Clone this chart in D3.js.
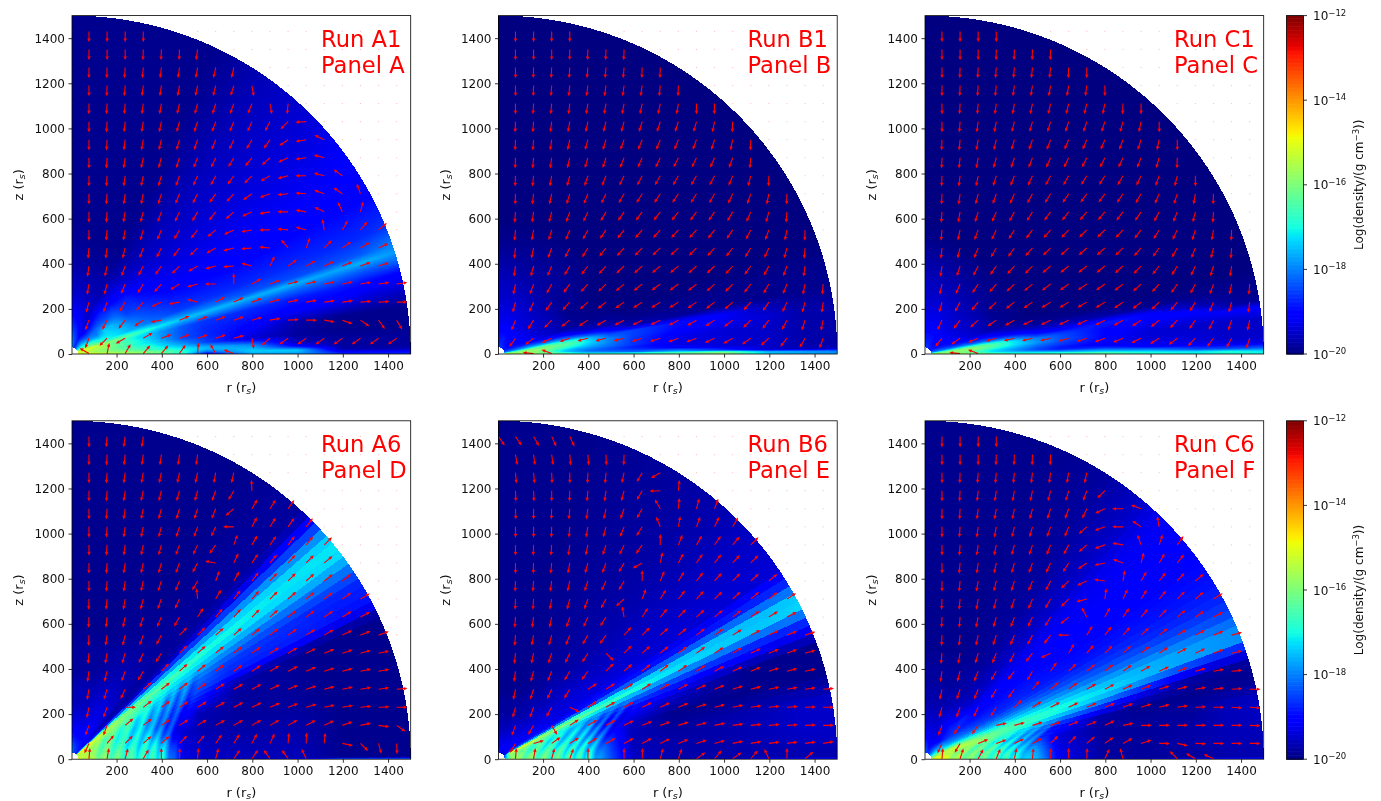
<!DOCTYPE html>
<html><head><meta charset="utf-8">
<script src="https://cdn.jsdelivr.net/npm/d3@7/dist/d3.min.js"></script>
<style>
html,body{margin:0;padding:0;background:#fff}
#wrap{position:relative;width:1381px;height:801px;overflow:hidden}
canvas,svg{position:absolute;left:0;top:0}
text{font-family:"DejaVu Sans",sans-serif}
</style></head><body><div id="wrap"><canvas id="heat" width="1381" height="801"></canvas><svg id="chart" width="1381" height="801"></svg></div>
<script>
// Radius nodes of the density tables (r_s)
const radii=[30,60,100,140,180,220,260,300,350,400,500,600,800,1000,1200,1350,1500];
// Density levels: tenths of a decade above 1e-20 g/cm3. Rows follow the polar angle lists (deg above the equator).
const thetaA=[0,1,2,3,5,8,11,14,16,17.5,19,22,28,36,45,55,65,78,90];
const densityA=[
[60,52,48,45,44,42,42,40,38,36,30,8,24,22,14,14,14],
[58,52,50,46,45,44,44,42,40,38,32,18,26,26,3,3,3],
[55,50,48,45,44,42,42,40,38,36,30,24,24,10,2,2,2],
[52,48,46,44,42,40,38,36,34,32,28,24,20,4,2,2,2],
[50,46,44,42,40,38,36,34,32,28,22,15,6,2,1,1,1],
[48,46,44,42,38,36,34,30,28,24,16,13,9,3,1,1,1],
[48,48,46,44,40,37,34,30,26,22,16,13,11,9,8,6,5],
[48,48,46,44,38,35,32,28,26,22,17,14,13,12,12,11,10],
[50,50,48,44,40,36,33,30,28,25,22,21,19,18,18,17,18],
[50,52,50,45,42,40,38,34,32,29,26,25,24,24,23,24,22],
[48,50,46,40,36,34,32,30,28,25,22,20,17,16,16,17,20],
[44,44,40,34,30,28,25,23,20,18,15,14,13,13,13,13,14],
[36,36,34,28,28,26,24,20,17,15,12,11,10,10,10,10,10],
[30,30,24,20,26,24,20,15,14,12,9,8,8,8,8,8,9],
[22,24,18,18,18,16,16,13,12,9,7,6,6,6,6,6,6],
[18,18,12,11,12,12,9,8,7,5,4,4,4,4,4,4,4],
[12,12,8,6,5,5,4,3,3,2,1,1,1,1,1,1,1],
[18,16,13,10,8,6,5,4,3,2,1,1,1,1,1,1,1],
[25,22,16,13,10,8,6,5,4,3,2,1,1,1,1,1,1]];
const thetaB=[0,0.5,1,2,3,4,6,8,10,12,15,20,30,50,70,90];
const densityB=[
[48,46,45,44,42,40,38,36,34,34,34,34,36,40,26,24,22],
[48,45,44,42,40,38,36,34,30,32,30,30,34,40,24,22,20],
[48,44,44,44,44,42,38,33,28,24,20,18,22,14,5,4,4],
[46,44,44,42,40,36,32,26,22,18,16,14,10,6,5,3,3],
[44,44,42,42,40,36,30,26,22,20,16,12,7,6,5,3,3],
[42,42,42,42,40,38,34,28,24,22,18,14,7,6,5,3,3],
[38,40,42,42,42,40,36,34,30,26,20,14,8,6,5,3,3],
[34,36,38,40,40,40,38,37,34,28,20,15,10,8,6,3,3],
[28,28,30,32,34,36,34,33,32,26,16,15,11,9,4,2,2],
[24,22,22,24,24,24,24,22,20,16,10,4,2,1,1,1,1],
[20,18,18,18,16,14,13,12,8,5,3,1,1,1,1,1,1],
[16,14,12,10,8,6,5,3,2,1,1,0,0,0,0,0,0],
[12,10,9,8,6,5,4,3,1,1,0,0,0,0,0,0,0],
[12,10,9,7,6,5,4,3,2,2,1,0,0,0,0,0,0],
[14,12,10,8,7,6,5,4,3,2,1,0,0,0,0,0,0],
[14,12,10,8,7,6,5,5,4,3,1,0,0,0,0,0,0]];
const thetaC=[0,0.5,1,2,3,4,6,8,9,10,12,15,20,30,50,70,90];
const densityC=[
[46,46,46,44,44,42,40,38,36,34,34,34,36,32,30,32,30],
[44,44,44,42,42,40,38,36,34,32,32,32,34,30,28,30,28],
[44,44,44,44,42,40,36,32,30,28,26,24,24,22,16,16,18],
[44,42,42,42,40,36,32,28,25,22,16,12,14,8,8,7,7],
[42,40,42,40,40,36,32,28,25,22,16,12,8,8,6,5,5],
[40,40,40,40,40,38,35,30,27,24,18,14,9,6,6,5,5],
[36,38,40,42,42,42,38,36,32,28,22,17,10,6,5,5,5],
[30,32,36,38,38,38,38,36,32,28,20,16,10,8,8,9,9],
[28,28,30,32,34,34,34,32,30,24,16,14,11,10,10,3,2],
[26,26,26,28,28,28,28,26,24,20,12,10,12,10,4,2,1],
[22,20,20,20,20,18,18,16,14,12,7,5,3,1,1,1,1],
[20,18,16,14,13,12,11,10,7,5,2,1,0,0,0,0,0],
[16,14,12,10,8,6,5,3,2,1,0,0,0,0,0,0,0],
[12,10,9,8,6,5,4,3,1,1,0,0,0,0,0,0,0],
[12,10,9,7,6,5,4,3,2,1,0,0,0,0,0,0,0],
[14,12,10,8,7,6,5,4,3,2,0,0,0,0,0,0,0],
[14,12,10,8,7,6,5,5,4,3,1,0,0,0,0,0,0]];
const thetaD=[0,0.4,8,14,20,25,28,32,35,37,39,41,43,45,47,52,60,75,90];
const densityD=[
[50,48,44,40,38,36,34,32,32,30,7,5,8,10,22,22,22],
[50,48,44,40,38,36,34,32,32,30,7,5,4,4,1,1,1],
[48,46,42,38,36,34,32,30,30,27,6,4,3,3,1,1,1],
[46,46,42,38,36,33,30,28,28,22,6,3,2,2,1,1,1],
[46,46,42,38,36,32,30,28,26,20,12,4,2,2,1,1,1],
[46,46,42,38,36,33,30,28,26,22,16,12,3,2,1,1,1],
[46,46,42,40,36,34,32,30,27,24,19,16,12,12,12,11,11],
[46,46,44,42,38,36,34,32,30,28,22,20,15,14,13,13,13],
[48,48,46,44,42,40,38,36,34,32,28,26,22,20,20,20,20],
[50,50,48,46,44,42,40,38,36,34,31,29,27,27,27,27,27],
[52,52,50,48,46,44,42,40,39,38,36,34,30,29,28,28,28],
[50,50,48,46,44,42,40,38,36,34,30,28,27,26,26,26,26],
[30,30,28,25,24,22,20,20,18,17,17,17,17,17,17,17,17],
[16,16,14,12,10,9,7,6,5,5,5,5,6,7,8,9,9],
[14,12,8,5,3,2,2,2,2,2,2,2,2,2,2,2,2],
[12,11,9,8,7,6,6,5,4,3,3,2,2,2,2,2,2],
[14,12,10,9,8,7,7,6,5,4,3,2,1,1,1,1,1],
[16,14,10,8,6,5,4,4,3,2,2,1,1,1,1,1,1],
[24,18,12,9,7,5,4,4,3,2,2,1,1,1,1,1,1]];
const thetaE=[0,0.4,5,10,15,20,23,25,26.5,28,29.5,31,34,40,50,60,75,90];
const densityE=[
[30,46,42,40,38,36,35,34,32,30,16,5,3,4,14,14,14],
[30,46,42,40,38,36,35,34,32,30,16,5,3,3,3,3,3],
[25,44,40,38,36,35,34,32,30,28,15,4,3,3,4,5,5],
[20,42,40,37,35,33,32,31,28,26,14,4,2,3,4,5,5],
[18,42,38,36,34,32,30,28,26,24,13,5,1,1,1,1,1],
[16,42,38,36,34,32,30,28,26,24,14,10,6,3,1,1,1],
[14,44,42,38,36,34,32,28,26,24,18,16,13,11,10,9,10],
[12,46,46,42,40,36,34,32,30,28,24,22,19,17,16,16,16],
[14,48,50,50,48,46,44,42,40,38,34,32,28,26,25,25,26],
[12,46,48,48,46,44,42,40,39,37,34,32,29,28,27,27,28],
[10,34,36,32,30,28,26,25,24,22,20,20,20,20,21,21,22],
[8,24,22,18,16,15,14,13,12,11,12,12,12,12,13,14,14],
[6,14,12,11,10,9,8,7,7,7,7,7,6,6,6,6,6],
[6,10,9,8,8,7,7,7,6,6,6,5,5,5,5,5,5],
[6,10,8,7,6,5,5,4,4,4,3,3,3,3,3,3,3],
[6,8,7,6,5,3,3,3,2,2,2,2,2,2,2,2,2],
[10,8,6,4,3,2,2,1,1,1,1,1,1,1,1,1,1],
[20,10,6,4,3,2,2,1,1,1,1,1,1,1,1,1,1]];
const thetaF=[0,0.4,5,10,14,17,19,21,23,25,28,32,40,46,50,58,70,90];
const densityF=[
[48,54,50,42,40,38,36,34,32,30,24,8,6,8,14,14,14],
[48,54,50,42,40,38,36,34,32,30,24,8,2,2,2,3,3],
[46,52,48,42,40,38,36,34,32,28,22,7,2,2,3,4,4],
[40,50,46,42,40,38,36,34,30,26,18,6,2,2,2,4,5],
[36,46,46,42,40,38,36,33,30,27,20,12,3,1,1,1,1],
[34,44,46,46,44,42,40,38,34,31,26,22,16,8,3,2,2],
[32,42,46,48,46,44,42,40,37,35,32,30,25,20,14,11,11],
[30,40,44,46,44,42,40,38,36,35,33,31,28,25,23,22,21],
[30,40,42,42,40,38,35,33,32,32,29,28,25,24,23,22,21],
[28,36,36,36,34,32,30,28,26,26,24,23,20,19,18,17,16],
[26,32,30,28,26,24,23,21,20,19,18,17,15,14,13,13,13],
[24,28,26,22,20,18,16,15,14,13,13,12,11,11,11,11,11],
[20,22,20,16,14,12,11,10,10,10,10,10,9,9,9,9,9],
[18,18,14,12,13,13,12,9,8,8,8,8,8,8,8,8,8],
[16,16,10,11,12,10,8,6,5,5,5,5,5,5,5,5,5],
[14,12,8,7,9,7,5,4,3,3,2,2,2,2,2,2,2],
[14,10,7,6,5,4,3,3,2,2,1,1,1,1,1,1,1],
[22,16,10,7,5,4,3,3,2,2,1,1,1,1,1,1,1]];
// Shell stripes in the lower wedge of the sixth-run panels: stripe radii and level offsets
const ringRadii=[90,118,147,176,206,235,265,290,316,338,360,382,405,430,455];
const ringsD=[3,-4,4,-4,4,-4,4,-4,4,-4,4,-4,4,-4,0];
const ringsE=[4,-5,5,-5,5,-5,5,-5,5,-5,5,-5,5,-4,0];
const ringsF=[3,-3,4,-4,4,-4,4,-4,4,-4,4,-3,3,-3,0];
const ringTops=[0,0,0,36,25,18];
const ringTables=[null,null,null,ringsD,ringsE,ringsF];
// Angular cell size (deg) visible as bands in each panel; 0 = smooth
const thetaCells=[0,0,0,1.5,1.5,1.5];

// Velocity field grid (r_s) and directions in degrees (0 = +r, 90 = +z); null = no arrow
const gridR=[78,158,238,318,398,478,558,638,718,798,878,958,1038,1118,1198,1278,1358,1438];
const gridZ=[1430,1350,1270,1190,1110,1030,950,870,790,710,630,550,470,390,310,230,150,70,2];
const arrowsA=[
[270,270,270,270],
[270,270,270,268,268,268,262],
[270,268,266,265,263,262,260,258,258],
[270,268,265,263,262,260,258,256,253,280],
[270,267,265,262,260,257,255,253,250,248,280,265],
[270,267,264,261,258,255,252,250,248,246,243,225,183],
[270,267,263,260,257,254,251,248,245,240,235,215,190,155],
[270,266,262,258,255,252,248,245,240,232,222,205,188,165],
[270,266,262,258,254,250,246,242,235,225,210,195,180,165,145],
[270,266,262,258,253,248,243,235,228,215,200,185,175,160,145,110],
[270,266,260,255,250,245,240,232,222,205,190,180,170,155,115,75],
[270,265,260,253,247,240,232,220,205,190,180,175,165,100,60,50,40],
[265,262,256,250,243,235,225,210,195,185,175,130,70,45,35,30,25],
[262,258,250,243,235,225,210,195,185,165,65,35,28,25,22,20,18],
[260,255,247,238,228,212,195,180,90,30,20,15,15,12,12,10,8,8],
[255,250,240,230,205,190,165,30,25,20,15,12,10,8,8,5,3,0],
[250,243,232,215,190,22,20,20,18,15,10,3,0,-10,-20,-35,-55,-60],
[250,225,210,30,20,20,18,18,15,280,220,215,215,215,215,215,215,215],
[150,78,60,50,50,55,85,120,160]];
const arrowsB=[
[270,270,270,270],
[270,270,270,269,268,268,268],
[270,268,267,266,265,265,265,268,268],
[270,268,266,264,263,262,262,262,264,268],
[270,267,265,263,261,260,259,258,258,260,270,268],
[268,266,263,260,258,256,255,253,252,252,254,258,268],
[268,266,262,258,255,253,250,248,248,248,250,252,258,268],
[268,265,262,257,254,252,248,246,244,243,244,246,250,265],
[268,264,260,255,252,248,244,242,240,240,240,242,248,255,268],
[268,263,258,253,248,244,240,238,236,236,238,240,245,250,258,268],
[266,262,256,250,245,240,236,234,232,232,234,236,240,246,254,265],
[265,260,254,248,242,236,232,230,228,228,228,232,236,242,250,258,268],
[264,258,250,243,238,232,228,226,224,224,226,228,232,238,245,254,265],
[262,255,247,240,233,228,224,222,220,220,222,224,228,234,242,250,262],
[258,250,242,234,228,224,220,218,216,216,218,222,226,232,240,248,258,265],
[255,246,236,228,222,218,215,213,212,212,214,218,222,228,236,245,254,262],
[248,238,226,218,213,210,208,207,206,208,210,213,218,225,233,242,252,258],
[235,218,205,198,195,195,195,198,198,200,200,205,210,215,222,232,240,250],
[null,175,160]];
const arrowsC=[
[270,270,270,270],
[270,270,270,269,268,268,268],
[270,268,267,266,265,264,264,268,270],
[270,268,266,264,262,261,260,260,262,270],
[270,267,265,262,260,258,257,256,256,258,268,270],
[270,266,262,259,256,254,253,252,252,252,254,258,270],
[268,265,260,257,254,251,249,247,247,247,250,252,258,270],
[268,264,260,255,252,249,246,244,243,243,245,248,254,268],
[268,263,258,253,249,245,242,240,238,238,240,244,250,256,270],
[268,262,256,251,246,241,238,236,234,234,236,240,246,252,260,268],
[266,260,253,247,242,238,234,232,230,230,232,236,242,248,256,266],
[265,258,250,244,238,233,229,227,225,225,227,232,238,244,252,260,268],
[264,256,247,240,234,229,225,223,222,222,225,229,234,240,248,256,266],
[262,252,243,235,229,225,221,219,218,219,222,226,231,238,245,253,262],
[258,247,237,230,224,220,217,215,214,215,218,222,228,235,242,250,258,265],
[255,242,231,224,218,214,212,211,210,212,215,219,224,231,238,247,255,262],
[245,233,222,215,210,207,205,205,205,207,210,214,220,227,235,244,252,258],
[232,215,203,196,194,194,194,196,198,200,202,206,212,218,226,234,242,252],
[null,175,160]];
const arrowsD=[
[270,265,262,262],
[270,267,264,262,262,262,262],
[270,266,262,260,258,258,258,260,258],
[270,266,262,258,256,255,255,250,240,92],
[270,266,262,258,255,253,252,248,220,60,58,55],
[270,266,262,258,255,252,250,245,180,62,58,55,52],
[270,266,262,258,255,250,245,235,70,60,55,52,50,45],
[270,266,262,258,255,250,242,170,65,55,50,47,45,40],
[270,266,262,258,252,248,240,70,60,52,48,45,42,38,38],
[268,264,260,255,250,245,95,60,52,48,45,42,40,38,35,30],
[268,264,258,252,246,240,58,50,48,45,42,40,38,35,32,28],
[268,262,256,250,242,45,45,42,42,40,38,35,32,30,25,22,20],
[265,260,253,245,238,45,42,40,38,35,32,30,25,22,18,15,12],
[262,256,250,240,45,42,40,38,36,33,30,27,23,18,15,12,10],
[260,253,245,40,38,38,35,33,30,28,25,22,18,15,12,10,8,5],
[258,250,0,38,36,33,32,30,28,26,23,20,17,12,10,6,3,0],
[250,250,40,38,35,33,32,30,30,30,30,30,28,25,20,12,-8,-35],
[245,50,45,42,42,45,50,55,58,62,65,85,88,85,-12,-45,-75,-88],
[85,80,75,60,90,88,85,75,55,55,125,125,115]];
const arrowsE=[
[305,300,295,295],
[280,278,278,275,275,272,268],
[275,275,272,270,268,265,258,240,210],
[272,272,270,268,265,262,255,240,182,85],
[272,270,268,265,262,258,250,240,120,85,75,70],
[270,270,268,265,260,255,248,238,112,80,70,65,60],
[270,268,266,262,258,252,245,235,90,68,60,55,50,45],
[270,268,265,260,255,250,240,210,78,62,55,52,48,45],
[268,266,262,258,252,245,240,90,68,58,52,48,45,42,40],
[268,266,260,255,250,242,222,70,58,52,48,45,43,40,38,33],
[266,262,258,252,246,238,100,58,50,46,43,40,38,35,32,28],
[266,260,255,248,240,235,48,45,42,40,38,35,32,28,25,22,18],
[264,258,252,245,238,315,45,42,40,38,36,33,30,25,22,20,15],
[262,255,248,240,235,45,42,40,38,35,33,28,25,22,18,15,12],
[258,252,245,238,32,32,32,32,30,28,25,22,18,15,12,10,8,5],
[255,250,240,-25,35,30,28,26,25,22,18,15,12,8,6,4,2,0],
[250,240,-60,33,30,28,26,22,20,18,15,12,8,6,5,3,2,0],
[240,15,35,32,30,28,28,28,25,22,18,15,12,10,8,8,8,10],
[85,80,75,70,88,null,90,88,75,72,35,50,35,50,115,90,40]];
const arrowsF=[
[270,270,270,270],
[270,270,270,268,268,268,268],
[270,268,266,265,264,263,262,260,258],
[270,267,264,262,260,258,256,254,250,225],
[270,267,263,260,258,255,252,250,245,205,180,160],
[270,266,262,260,257,254,250,248,222,200,180,145,100],
[270,266,262,258,255,252,248,242,222,200,170,110,72,55],
[270,265,262,258,255,250,245,238,215,192,160,75,60,52],
[270,265,260,257,253,248,243,225,205,172,80,60,52,48,40],
[268,265,260,256,252,247,240,225,195,82,65,58,50,45,40,32],
[268,265,258,254,250,245,238,220,118,62,55,50,45,40,35,28],
[268,264,258,252,248,242,232,180,58,52,48,42,38,32,28,22,15],
[265,260,254,248,243,232,205,60,50,45,42,38,33,28,25,20,12],
[262,255,248,240,232,240,55,45,40,38,35,30,25,20,15,10,5],
[258,252,248,240,235,50,40,35,30,28,25,22,18,15,10,7,4,0],
[255,250,245,238,45,32,28,26,24,22,20,18,15,8,3,0,-3,-3],
[250,235,235,12,15,18,20,22,22,25,12,0,0,0,0,0,0,-2],
[245,240,22,20,25,28,45,45,40,35,28,18,0,-12,-2,0,0,0],
[85,72,62,68,78,85,88,90,88,65,105,null,null,135,150,155]];
// The lone arrow on the polar axis of Panel E: [row index, direction]
const axisArrowsE=[[0,305]];

const xTicks=[200,400,600,800,1000,1200,1400];
const zTicks=[0,200,400,600,800,1000,1200,1400];
const cbarExponents=[-12,-14,-16,-18,-20];
const runLabels=["Run A1","Run B1","Run C1","Run A6","Run B6","Run C6"];
const panelLabels=["Panel A","Panel B","Panel C","Panel D","Panel E","Panel F"];
const thetaLists=[thetaA,thetaB,thetaC,thetaD,thetaE,thetaF];
const densityTables=[densityA,densityB,densityC,densityD,densityE,densityF];
const arrowTables=[arrowsA,arrowsB,arrowsC,arrowsD,arrowsE,arrowsF];

// layout
const lefts=[72,498.5,925], axW=338.7, tops=[15.6,420.8], axH=338.4, cbLeft=1286.5, cbW=17;
const RMAX=1500, RMIN=30;

// jet colour map
const jetR=d3.scaleLinear().domain([0,.35,.66,.89,1]).range([0,0,1,1,.5]).clamp(true);
const jetG=d3.scaleLinear().domain([0,.125,.375,.64,.91,1]).range([0,0,1,1,0,0]).clamp(true);
const jetB=d3.scaleLinear().domain([0,.11,.34,.65,1]).range([.5,1,1,0,0]).clamp(true);
const toUnit=d3.scaleLinear().domain([-20,-12]).range([0,1]).clamp(true);
const jet=t=>[255*jetR(t),255*jetG(t),255*jetB(t)];

const svg=d3.select("#chart");
const ctx=document.getElementById("heat").getContext("2d");
const img=ctx.createImageData(1381,801);
for(let i=3;i<img.data.length;i+=4){img.data[i]=255;img.data[i-1]=255;img.data[i-2]=255;img.data[i-3]=255;}

function bracket(list,v){
  let i=d3.bisectRight(list,v)-1; i=Math.max(0,Math.min(list.length-2,i));
  return [i,Math.max(0,Math.min(1,(v-list[i])/(list[i+1]-list[i])))];
}
function paintField(x,y,thetas,table,rings,ringTop,cell){
  const [x0,x1]=x.range(),[y1,y0]=y.range();
  for(let py=Math.floor(y0);py<Math.ceil(y1);py++){
    for(let px=Math.floor(x0);px<Math.ceil(x1);px++){
      const r=x.invert(px+.5),z=y.invert(py+.5);
      if(z<0||r<x.domain()[0])continue;
      const rad=Math.hypot(r,z);
      if(rad>RMAX||rad<RMIN)continue;
      const th0=Math.atan2(z,r)*180/Math.PI;
      // the simulation's polar cells: angular steps show as bands away from the equator
      const th=(!cell||th0<4)?th0:Math.round(th0/cell)*cell;
      const [i,a]=bracket(radii,rad),[j,b]=bracket(thetas,th);
      let L=(table[j][i]*(1-a)+table[j][i+1]*a)*(1-b)+(table[j+1][i]*(1-a)+table[j+1][i+1]*a)*b;
      if(rings&&th0<ringTop){
        const s=th0/ringTop, rEff=rad/(1+.6*s*s);
        if(rEff>=ringRadii[0]&&rEff<=ringRadii[ringRadii.length-1]){
          const [ri,ra]=bracket(ringRadii,rEff);
          const w=Math.min(1,(ringTop-th0)/5);
          L+=w*(rings[ri]*(1-ra)+rings[ri+1]*ra);
        }
      }
      const c=jet(toUnit(-20+L/10));
      const k=(py*1381+px)*4;
      img.data[k]=c[0];img.data[k+1]=c[1];img.data[k+2]=c[2];img.data[k+3]=255;
    }
  }
}
const arrowShape=d3.line()([[0,-.55],[7.2,-.55],[6.9,-1.75],[10.8,0],[6.9,1.75],[7.2,.55],[0,.55]])+"Z";

function axisLabel(g,tx,ty,rot,base){
  const t=g.append("text").attr("transform",`translate(${tx},${ty}) rotate(${rot})`)
    .attr("text-anchor","middle").attr("font-size",13).attr("fill","#111");
  t.append("tspan").text(base+" (r");
  t.append("tspan").attr("font-size",9.5).attr("font-style","italic").attr("dy",2.2).text("s");
  t.append("tspan").attr("dy",-2.2).text(")");
}

runLabels.forEach((run,p)=>{
  const col=p%3,row=Math.floor(p/3);
  const left=lefts[col],top=tops[row];
  const x=d3.scaleLinear().domain([3,RMAX]).range([left,left+axW]);
  const y=d3.scaleLinear().domain([0,RMAX]).range([top+axH,top]);
  paintField(x,y,thetaLists[p],densityTables[p],ringTables[p],ringTops[p],thetaCells[p]);
  const g=svg.append("g");
  const clipId="clip"+p;
  g.append("clipPath").attr("id",clipId).append("rect").attr("x",left).attr("y",top).attr("width",axW).attr("height",axH);
  const q=g.append("g").attr("clip-path",`url(#${clipId})`);
  // faint zero-length markers of the quiver outside the domain
  gridZ.slice(0,-1).forEach((z)=>{
    [0].concat(gridR).forEach(r=>{
      if(Math.hypot(r,z)>RMAX+15||r===0){
        q.append("rect").attr("x",x(Math.max(r,3))-.5).attr("y",y(z)-.5).attr("width",1).attr("height",1)
          .attr("fill",r===0?"#ff6060":"#ff0000").attr("opacity",.28);
      }
    });
  });
  const cells=[];
  arrowTables[p].forEach((rowVals,k)=>rowVals.forEach((deg,i)=>{
    if(deg!==null)cells.push({r:gridR[i],z:gridZ[k],deg});
  }));
  if(p===4)axisArrowsE.forEach(([k,deg])=>cells.push({r:3,z:gridZ[k],deg}));
  q.selectAll("path.arrow").data(cells).join("path").attr("class","arrow")
    .attr("d",arrowShape).attr("fill","#ff0000")
    .attr("transform",d=>`translate(${x(d.r)},${y(d.z)}) rotate(${-d.deg})`);
  // axes
  const ax=d3.axisBottom(x).tickValues(xTicks).tickSize(3.5).tickPadding(3.5).tickFormat(d3.format("d"));
  const ay=d3.axisLeft(y).tickValues(zTicks).tickSize(3.5).tickPadding(3.5).tickFormat(d3.format("d"));
  const gx=g.append("g").attr("transform",`translate(0,${top+axH})`).call(ax);
  const gy=g.append("g").attr("transform",`translate(${left},0)`).call(ay);
  [gx,gy].forEach(a=>{a.select(".domain").remove();a.selectAll("line").attr("stroke","#000").attr("stroke-width",.8);
    a.selectAll("text").attr("font-size",12).attr("font-family","DejaVu Sans").attr("fill","#111");});
  g.append("rect").attr("x",left).attr("y",top).attr("width",axW).attr("height",axH)
    .attr("fill","none").attr("stroke","#000").attr("stroke-width",.8);
  axisLabel(g,left+axW/2,top+axH+38,0,"r");
  axisLabel(g,left-49,top+axH/2,-90,"z");
  const label=g.append("text").attr("fill","#ff0000").attr("font-size",22.6);
  label.append("tspan").attr("x",left+249).attr("y",top+31).text(run);
  label.append("tspan").attr("x",left+249).attr("y",top+57).text(panelLabels[p]);
});
ctx.putImageData(img,0,0);

// colour bars
tops.forEach((top,n)=>{
  const g=svg.append("g");
  const cy=d3.scaleLinear().domain([-20,-12]).range([top+axH,top]);
  const steps=d3.range(0,256);
  g.selectAll("rect.c").data(steps).join("rect").attr("class","c")
    .attr("x",cbLeft).attr("width",cbW)
    .attr("y",d=>cy(-20+(d+1)/256*8)).attr("height",axH/256+.6)
    .attr("fill",d=>{const c=jet((d+.5)/256);return d3.rgb(c[0],c[1],c[2]).formatRgb();});
  g.append("rect").attr("x",cbLeft).attr("y",top).attr("width",cbW).attr("height",axH)
    .attr("fill","none").attr("stroke","#000").attr("stroke-width",.8);
  cbarExponents.forEach(e=>{
    g.append("line").attr("x1",cbLeft+cbW).attr("x2",cbLeft+cbW+3.5).attr("y1",cy(e)).attr("y2",cy(e)).attr("stroke","#000").attr("stroke-width",.8);
    const t=g.append("text").attr("x",cbLeft+cbW+9.5).attr("y",cy(e)+4.5).attr("font-size",12).attr("fill","#111");
    t.append("tspan").text("10");
    t.append("tspan").attr("font-size",8.5).attr("dy",-4.5).text("\u2212"+Math.abs(e));
  });
  const t=g.append("text").attr("transform",`translate(1363,${top+axH/2}) rotate(-90)`)
    .attr("text-anchor","middle").attr("font-size",12).attr("fill","#111");
  t.append("tspan").text("Log(density/(g cm");
  t.append("tspan").attr("font-size",8.5).attr("dy",-4.5).text("\u22123");
  t.append("tspan").attr("dy",4.5).text("))");
});
</script></body></html>
